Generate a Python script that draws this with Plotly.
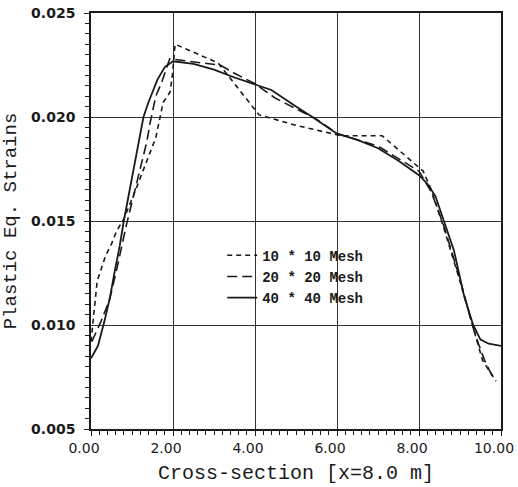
import plotly.graph_objects as go

# ---- data ----
x40 = [0.00, 0.17, 0.33, 0.46, 0.58, 0.70, 0.80, 0.95, 1.10, 1.28, 1.40, 1.50, 1.62, 1.80, 2.00,
       2.50, 3.00, 3.50, 4.00, 4.40, 5.00, 5.40, 6.00, 6.50, 7.00, 7.50, 8.00, 8.20, 8.40, 8.60,
       8.85, 9.10, 9.32, 9.50, 9.70, 10.00]
y40 = [0.0084, 0.0090, 0.0102, 0.0113, 0.0126, 0.0138, 0.0150, 0.0166, 0.0182, 0.0200, 0.0207,
       0.0212, 0.0218, 0.0224, 0.02268, 0.02255, 0.02228, 0.0219, 0.02155, 0.0213, 0.0205, 0.0200,
       0.0192, 0.0189, 0.0185, 0.0179, 0.0172, 0.0168, 0.0162, 0.0150, 0.0136, 0.0114, 0.0100,
       0.0093, 0.0091, 0.0090]

x20 = [0.02, 0.25, 0.45, 0.62, 0.85, 1.15, 1.36, 1.44, 1.58, 1.73, 1.92, 2.70, 3.15, 3.50, 4.00,
       4.50, 5.00, 5.50, 6.00, 6.50, 7.00, 7.50, 8.00, 8.30, 8.60, 9.00, 9.30, 9.45, 9.60, 9.82]
y20 = [0.0092, 0.0102, 0.0112, 0.0126, 0.0147, 0.0171, 0.0188, 0.0197, 0.0210, 0.0217, 0.0228,
       0.0226, 0.0225, 0.0221, 0.0216, 0.0209, 0.0204, 0.0199, 0.0192, 0.0189, 0.0186, 0.0180,
       0.0174, 0.0164, 0.0148, 0.0122, 0.0100, 0.0091, 0.0083, 0.0074]

x10 = [0.00, 0.15, 0.35, 0.50, 0.62, 0.80, 1.05, 1.25, 1.40, 1.58, 1.76, 1.93, 1.99, 2.05, 3.10,
       4.10, 5.00, 6.10, 7.10, 8.10, 8.30, 8.60, 9.00, 9.35, 9.55, 9.88]
y10 = [0.0092, 0.0121, 0.0133, 0.0139, 0.0145, 0.0151, 0.0163, 0.0173, 0.0181, 0.0190, 0.0207,
       0.0212, 0.0221, 0.0235, 0.0226, 0.0201, 0.0196, 0.0191, 0.0191, 0.0174, 0.0165, 0.0147,
       0.0121, 0.0096, 0.0083, 0.0073]

series_names = ["10 * 10 Mesh", "20 * 20 Mesh", "40 * 40 Mesh"]
x_ticks = [0, 2, 4, 6, 8, 10]
x_ticktext = ["0.00", "2.00", "4.00", "6.00", "8.00", "10.00"]
y_ticks = [0.005, 0.010, 0.015, 0.020, 0.025]
y_ticktext = ["0.005", "0.010", "0.015", "0.020", "0.025"]

INK = "#1a1a1a"
MONO = "Liberation Mono, DejaVu Sans Mono, monospace"

fig = go.Figure()
fig.add_trace(go.Scatter(x=x10, y=y10, mode="lines", name=series_names[0],
                         line=dict(color=INK, width=1.6, dash="5px,4px")))
fig.add_trace(go.Scatter(x=x20, y=y20, mode="lines", name=series_names[1],
                         line=dict(color=INK, width=1.6, dash="10px,5px")))
fig.add_trace(go.Scatter(x=x40, y=y40, mode="lines", name=series_names[2],
                         line=dict(color=INK, width=1.8)))

fig.update_layout(
    width=518, height=487,
    margin=dict(l=91, r=17, t=13, b=58, autoexpand=False),
    paper_bgcolor="white", plot_bgcolor="white",
    showlegend=True,
    legend=dict(x=0.32, y=0.455, xanchor="left", yanchor="top",
                bgcolor="rgba(0,0,0,0)", borderwidth=0, itemwidth=30,
                tracegroupgap=0,
                font=dict(family=MONO, size=14, color=INK, weight="bold")),
    font=dict(family="DejaVu Sans", color=INK),
)

fig.update_xaxes(
    range=[0, 10], tickvals=x_ticks, ticktext=x_ticktext,
    automargin=False,
    showgrid=True, gridcolor="#333333", gridwidth=1,
    showline=True, linecolor=INK, linewidth=1.6, mirror=True,
    ticks="outside", ticklen=5, tickcolor=INK, tickwidth=1.2,
    minor=dict(dtick=0.2, ticks="outside", ticklen=4, tickcolor=INK, tickwidth=1, showgrid=False),
    tickfont=dict(family="DejaVu Sans", size=14, color=INK),
    ticklabeloverflow="allow",
    ticklabelshift=-7,
    zeroline=False,
    title=dict(text="Cross-section [x=8.0 m]", standoff=10,
               font=dict(family=MONO, size=20, color=INK)),
)
fig.update_yaxes(
    range=[0.005, 0.025], tickvals=y_ticks, ticktext=y_ticktext,
    automargin=False,
    showgrid=True, gridcolor="#333333", gridwidth=1,
    showline=True, linecolor=INK, linewidth=1.6, mirror=True,
    ticks="outside", ticklen=5, tickcolor=INK, tickwidth=1.2,
    minor=dict(dtick=0.0005, ticks="outside", ticklen=4, tickcolor=INK, tickwidth=1, showgrid=False),
    tickfont=dict(family="DejaVu Sans", size=14, color=INK, weight="bold"),
    ticklabelstandoff=6,
    zeroline=False,
    title=dict(text="Plastic Eq. Strains", standoff=10,
               font=dict(family=MONO, size=19, color=INK)),
)

fig.write_html("out.html")
